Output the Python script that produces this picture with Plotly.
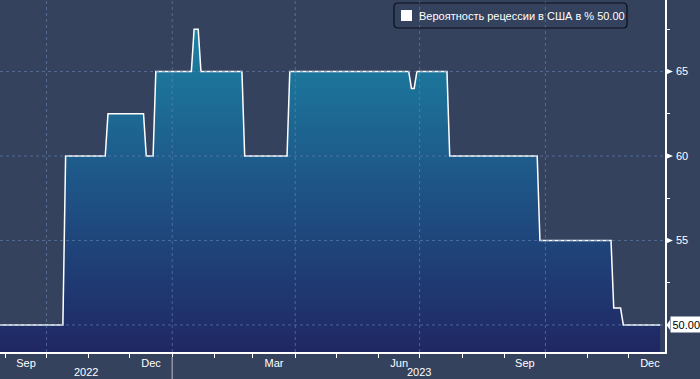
import plotly.graph_objects as go
import pandas as pd

# ---------------- data ----------------
dates = [
    "2022-08-20", "2022-10-13", "2022-10-15", "2022-11-13", "2022-11-15",
    "2022-12-11", "2022-12-13", "2022-12-18", "2022-12-20", "2023-01-15",
    "2023-01-17", "2023-01-20", "2023-01-22", "2023-02-21", "2023-02-23",
    "2023-03-26", "2023-03-28", "2023-06-23", "2023-06-25", "2023-06-27",
    "2023-06-29", "2023-07-21", "2023-07-23", "2023-09-25", "2023-09-27",
    "2023-11-18", "2023-11-20", "2023-11-25", "2023-11-27", "2023-12-24",
]
values = [
    50, 50, 60, 60, 62.5,
    62.5, 60, 60, 65, 65,
    67.5, 67.5, 65, 65, 60,
    60, 65, 65, 64, 64,
    65, 65, 60, 60, 55,
    55, 51, 51, 50, 50,
]
series_name = "Вероятность рецессии в США в %"
month_labels = ["Sep", "Dec", "Mar", "Jun", "Sep", "Dec"]
month_label_starts = ["2022-09-01", "2022-12-01", "2023-03-01",
                      "2023-06-01", "2023-09-01", "2023-12-01"]
year_labels = ["2022", "2023"]
y_tick_vals = [55, 60, 65]
y_minor_vals = [52.5, 57.5, 62.5, 67.5]

# ---------------- layout constants ----------------
W, H = 700, 379
ML, MR, MT, MB = 0, 35, 0, 27
PW, PH = W - ML - MR, H - MT - MB
x_range = [pd.Timestamp("2022-08-28"), pd.Timestamp("2023-12-27 12:00")]
y_range = [48.4, 69.23]
BG = "#35425e"
GRID = "rgba(105,135,180,0.6)"
FONT = "Liberation Sans"
FS = 11


def xp(d):
    d = pd.Timestamp(d)
    return (d - x_range[0]) / (x_range[1] - x_range[0])


def yp(v):
    return (v - y_range[0]) / (y_range[1] - y_range[0])


fig = go.Figure()
fig.add_trace(go.Scatter(
    x=dates, y=values, mode="lines",
    line=dict(color="white", width=1.5),
    fill="tozeroy",
    fillgradient=dict(type="vertical",
                      colorscale=[[0, "#202763"], [0.5, "#1e5386"], [1, "#1b82a3"]],
                      start=y_range[0], stop=max(values)),
    name=series_name, showlegend=False, hoverinfo="skip",
))

# month tick labels at mid-month, minor ticks at month starts
label_pos = []
for s in month_label_starts:
    t = pd.Timestamp(s)
    label_pos.append(t + pd.Timedelta(days=t.days_in_month / 2))
month_starts = pd.date_range("2022-09-01", "2023-12-01", freq="MS")

shapes = []
# vertical dashed grid at quarter starts
for q in pd.date_range("2022-09-01", "2023-12-01", freq="QS"):
    shapes.append(dict(type="line", xref="x", yref="paper", x0=q, x1=q, y0=0, y1=1,
                       line=dict(color=GRID, width=1, dash="3px,3px"), layer="above"))
# horizontal dashed grid
for v in [50] + y_tick_vals:
    shapes.append(dict(type="line", xref="paper", yref="paper", x0=0, x1=1, y0=yp(v), y1=yp(v),
                       line=dict(color=GRID, width=1, dash="3px,3px"), layer="above"))
# triangular major tick markers on the right axis
tw, th = 7 / PW, 3 / PH
for v in y_tick_vals:
    y = yp(v)
    shapes.append(dict(type="path", xref="paper", yref="paper",
                       path=f"M 1.0015,{y - th} L {1.0015 + tw},{y} L 1.0015,{y + th} Z",
                       fillcolor="white", line=dict(width=0), layer="above"))
# year separator below axis
jan = xp("2023-01-01")
shapes.append(dict(type="line", xref="paper", yref="paper", x0=jan, x1=jan,
                   y0=-5 / PH, y1=-MB / PH, line=dict(color="#8f95a3", width=1.5)))
# last-value pointer
ly = yp(values[-1])
shapes.append(dict(type="path", xref="paper", yref="paper",
                   path=f"M {1 + 1.5 / PW},{ly} L {1 + 5 / PW},{ly + 5 / PH} L {1 + 5 / PW},{ly - 5 / PH} Z",
                   fillcolor="white", line=dict(width=0)))
# legend box (rounded) and white square
xl, xr = 394 / PW, 627 / PW
yt, yb = 1 - 3 / PH, 1 - 28 / PH
rx, ry = 4 / PW, 4 / PH
shapes.append(dict(type="path", xref="paper", yref="paper",
                   path=(f"M {xl + rx},{yt} L {xr - rx},{yt} Q {xr},{yt} {xr},{yt - ry} "
                         f"L {xr},{yb + ry} Q {xr},{yb} {xr - rx},{yb} L {xl + rx},{yb} "
                         f"Q {xl},{yb} {xl},{yb + ry} L {xl},{yt - ry} Q {xl},{yt} {xl + rx},{yt} Z"),
                   line=dict(color="#0a0e18", width=1.2), layer="above"))
shapes.append(dict(type="rect", xref="paper", yref="paper",
                   x0=401 / PW, x1=412 / PW, y0=1 - 21 / PH, y1=1 - 10 / PH,
                   fillcolor="white", line=dict(width=0), layer="above"))

annotations = [
    dict(text=f"{series_name} {values[-1]:.2f}", xref="paper", yref="paper",
         x=417 / PW, y=1 - 16 / PH, xanchor="left", yanchor="middle", showarrow=False,
         font=dict(family=FONT, size=FS, color="white")),
    dict(text=f"{values[-1]:.2f}", xref="paper", yref="paper",
         x=1 + 5 / PW, y=ly, xanchor="left", yanchor="middle", showarrow=False,
         bgcolor="white", borderpad=1.5, font=dict(family=FONT, size=FS, color="black")),
]
year_bounds = [x_range[0], pd.Timestamp("2023-01-01"), x_range[1]]
for i, yl in enumerate(year_labels):
    mid = year_bounds[i] + (year_bounds[i + 1] - year_bounds[i]) / 2
    annotations.append(dict(text=yl, xref="x", yref="paper", x=mid, y=-20 / PH,
                            xanchor="center", yanchor="middle", showarrow=False,
                            font=dict(family=FONT, size=FS, color="white")))

fig.update_layout(
    width=W, height=H,
    margin=dict(l=ML, r=MR, t=MT, b=MB, autoexpand=False),
    paper_bgcolor=BG, plot_bgcolor=BG,
    font=dict(family=FONT, size=FS, color="white"),
    shapes=shapes, annotations=annotations,
    showlegend=False,
    xaxis=dict(
        type="date", range=x_range, showgrid=False, zeroline=False, automargin=False,
        tickmode="array", tickvals=label_pos, ticktext=month_labels, ticks="",
        showline=True, linecolor="white", linewidth=1.5,
        minor=dict(tickmode="array", tickvals=list(month_starts), ticks="outside",
                   ticklen=4, tickcolor="white", tickwidth=1, showgrid=False),
        tickfont=dict(family=FONT, size=FS, color="white"),
    ),
    yaxis=dict(
        side="right", range=y_range, showgrid=False, zeroline=False, automargin=False,
        tickmode="array", tickvals=y_tick_vals, ticktext=[str(v) for v in y_tick_vals],
        ticks="outside", ticklen=7, tickcolor=BG, tickwidth=1,
        showline=True, linecolor="white", linewidth=1.5,
        minor=dict(tickmode="array", tickvals=y_minor_vals, ticks="outside",
                   ticklen=3, tickcolor="white", tickwidth=1, showgrid=False),
        tickfont=dict(family=FONT, size=FS, color="white"),
    ),
)

fig.write_html(
    "out.html",
    config={"displayModeBar": False},
    post_script="document.body.style.margin='0';document.body.style.overflow='hidden';",
)
